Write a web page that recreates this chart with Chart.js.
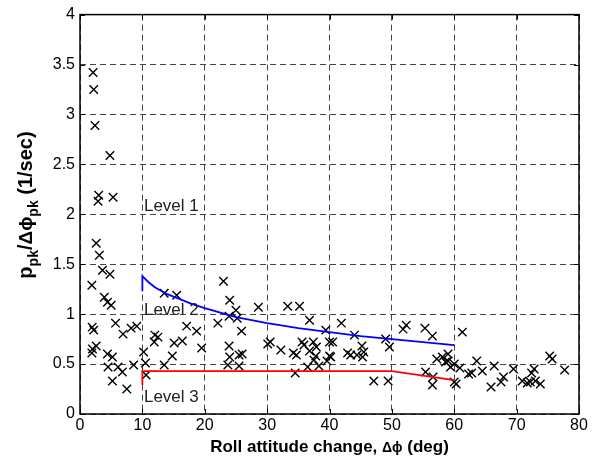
<!DOCTYPE html>
<html>
<head>
<meta charset="utf-8">
<script src="https://cdn.jsdelivr.net/npm/chart.js@4.4.1/dist/chart.umd.min.js"></script>
<style>
  html, body { margin: 0; padding: 0; background: #fff; }
  #wrap { position: relative; width: 607px; height: 464px; }
</style>
</head>
<body>
<div id="wrap"><canvas id="rollChart"></canvas></div>
<script>
/* ─── DATA ─── */
// roll attitude change (deg) / p_pk / dphi_pk (1/sec) for each test point
const rollX = [
  2.1, 2.2, 2.4, 4.8, 3.0, 2.9, 5.3, 2.6, 3.1, 3.6, 4.8, 1.9, 3.9, 4.4, 5.0,
  1.95, 2.2, 5.7, 6.9, 8.2, 9.1, 2.0, 2.6, 1.9, 4.4, 5.2, 4.5, 6.1, 6.8, 8.6,
  5.2, 7.5, 10.2, 10.5, 10.6,
  12.0, 12.5, 11.9, 13.5, 15.5, 15.1, 16.4, 17.1, 18.7, 19.5, 14.8, 13.5,
  23.0, 24.0, 25.0, 22.1, 23.9, 25.2, 25.9, 28.6, 23.9, 24.0, 25.5, 26.0, 23.7, 25.5,
  30.1, 30.5, 32.2, 33.3, 35.2, 36.8, 34.2, 34.7, 35.6, 35.9, 37.4, 37.9, 36.8,
  37.8, 37.5, 34.5, 36.5, 38.3, 39.4, 39.6, 40.2,
  40.0, 40.5, 40.0, 41.9, 44.0, 42.9, 43.4, 44.4, 45.2, 45.5, 45.3, 47.1, 49.4, 49.0, 49.6,
  51.8, 52.3, 55.3, 56.5, 55.4, 56.6, 56.5, 57.2, 58.1, 59.0, 59.0, 58.6, 59.4, 60.0,
  60.9, 60.0, 60.3,
  61.3, 62.3, 62.8, 63.6, 64.5, 65.9, 66.4, 67.5, 67.9, 69.5, 70.9, 71.7, 72.4,
  72.8, 72.2, 73.0, 73.8, 75.3, 75.7, 77.7
];
const rateY = [
  3.42, 3.25, 2.89, 2.59, 2.19, 2.13, 2.17, 1.71, 1.59, 1.44, 1.40, 1.29, 1.17, 1.12, 1.09,
  0.87, 0.84, 0.91, 0.80, 0.86, 0.88, 0.65, 0.68, 0.61, 0.60, 0.57, 0.47, 0.47, 0.42, 0.49,
  0.33, 0.25, 0.62, 0.51, 0.39,
  0.79, 0.77, 0.72, 1.21, 1.19, 0.71, 0.73, 0.88, 0.83, 0.66, 0.58, 0.49,
  1.33, 1.14, 1.04, 0.91, 0.98, 0.96, 0.83, 1.07, 0.68, 0.57, 0.59, 0.60, 0.49, 0.48,
  0.70, 0.72, 0.64, 1.08, 1.08, 0.94, 0.61, 0.59, 0.72, 0.69, 0.72, 0.67, 0.63,
  0.58, 0.54, 0.41, 0.47, 0.48, 0.84, 0.53, 0.57,
  0.72, 0.72, 0.58, 0.91, 0.79, 0.61, 0.59, 0.59, 0.68, 0.62, 0.57, 0.33, 0.33, 0.75, 0.67,
  0.85, 0.89, 0.86, 0.78, 0.42, 0.37, 0.29, 0.55, 0.57, 0.60, 0.53, 0.52, 0.47, 0.50,
  0.46, 0.32, 0.30,
  0.82, 0.40, 0.41, 0.53, 0.43, 0.27, 0.48, 0.32, 0.37, 0.45, 0.33, 0.31, 0.41,
  0.45, 0.32, 0.33, 0.30, 0.58, 0.55, 0.44
];

// Level 1 / Level 2 boundary (blue)
const bound12X = [10, 10, 11, 12, 14, 16, 18, 20, 25, 30, 35, 40, 45, 50, 55, 60];
const bound12Y = [1.23, 1.38, 1.32, 1.27, 1.20, 1.15, 1.10, 1.06, 0.97, 0.91, 0.86, 0.82, 0.78, 0.75, 0.72, 0.69];
// Level 2 / Level 3 boundary (red)
const bound23X = [10, 10, 50, 60];
const bound23Y = [0.29, 0.43, 0.43, 0.34];

const levelNames = ['Level 1', 'Level 2', 'Level 3'];
const levelTextX = [10.25, 10.25, 10.25];
const levelTextY = [2.03, 0.99, 0.12];

const xTicks = [0, 10, 20, 30, 40, 50, 60, 70, 80];
const yTicks = [0, 0.5, 1, 1.5, 2, 2.5, 3, 3.5, 4];

/* ─── STYLE ─── */
const FONT = "Arial, 'Liberation Sans', sans-serif";
const TITLE_MAIN = `bold 17px ${FONT}`;
const TITLE_SYM  = `bold 14px ${FONT}`;
const YT_MAIN = `bold 20px ${FONT}`;
const YT_SUB  = `bold 14px ${FONT}`;
const YT_SYM  = `bold 19px ${FONT}`;

const toPoints = (xs, ys) => xs.map((x, i) => ({ x, y: ys[i] }));

// draws a run of text pieces [text, font, baselineShift] centred on (cx, cy)
function drawRich(ctx, pieces, cx, cy, angle) {
  ctx.save();
  ctx.translate(cx, cy);
  ctx.rotate(angle);
  ctx.textBaseline = 'alphabetic';
  ctx.textAlign = 'left';
  let total = 0;
  pieces.forEach(([t, f]) => { ctx.font = f; total += ctx.measureText(t).width; });
  let x = -total / 2;
  pieces.forEach(([t, f, dy]) => {
    ctx.font = f;
    ctx.fillText(t, x, dy || 0);
    x += ctx.measureText(t).width;
  });
  ctx.restore();
}

/* frame, inner ticks, titles and level labels (MATLAB look) */
const matlabFrame = {
  id: 'matlabFrame',
  afterDraw(chart) {
    const { ctx, chartArea: a, scales: { x, y } } = chart;
    ctx.save();
    ctx.strokeStyle = '#000';
    ctx.lineWidth = 1.5;
    ctx.strokeRect(a.left, a.top, a.right - a.left, a.bottom - a.top);

    ctx.lineWidth = 1;
    ctx.beginPath();
    xTicks.forEach(v => {
      const px = Math.round(x.getPixelForValue(v)) + 0.5;
      ctx.moveTo(px, a.bottom); ctx.lineTo(px, a.bottom - 5);
      ctx.moveTo(px, a.top);    ctx.lineTo(px, a.top + 5);
    });
    yTicks.forEach(v => {
      const py = Math.round(y.getPixelForValue(v)) + 0.5;
      ctx.moveTo(a.left, py);  ctx.lineTo(a.left + 5, py);
      ctx.moveTo(a.right, py); ctx.lineTo(a.right - 5, py);
    });
    ctx.stroke();

    // level annotations
    ctx.fillStyle = '#222';
    ctx.font = `17px ${FONT}`;
    ctx.textAlign = 'left';
    ctx.textBaseline = 'alphabetic';
    levelNames.forEach((name, i) => {
      ctx.fillText(name, x.getPixelForValue(levelTextX[i]), y.getPixelForValue(levelTextY[i]));
    });

    // axis titles
    ctx.fillStyle = '#000';
    drawRich(ctx, [
      ['Roll attitude change, ', TITLE_MAIN],
      ['Δϕ', TITLE_SYM],
      [' (deg)', TITLE_MAIN]
    ], (a.left + a.right) / 2, 452, 0);

    drawRich(ctx, [
      ['p', YT_MAIN],
      ['pk', YT_SUB, 6],
      ['/', YT_MAIN],
      ['Δϕ', YT_SYM],
      ['pk', YT_SUB, 6],
      [' (1/sec)', YT_MAIN]
    ], 32, 205, -Math.PI / 2);
    ctx.restore();
  }
};

const axisCommon = {
  type: 'linear',
  grid: { color: '#444', lineWidth: 1, drawTicks: false },
  border: { display: false, dash: [6, 4] },
  ticks: {
    color: '#000',
    font: { family: FONT, size: 16 },
    callback: v => String(v)
  }
};

new Chart(document.getElementById('rollChart'), {
  type: 'scatter',
  data: {
    datasets: [
      {
        label: 'Level 1/2 boundary',
        data: toPoints(bound12X, bound12Y),
        showLine: true,
        borderColor: '#0000ff',
        borderWidth: 1.8,
        pointRadius: 0,
        tension: 0
      },
      {
        label: 'Level 2/3 boundary',
        data: toPoints(bound23X, bound23Y),
        showLine: true,
        borderColor: '#ff0000',
        borderWidth: 1.8,
        pointRadius: 0,
        tension: 0
      },
      {
        label: 'Flight test points',
        data: toPoints(rollX, rateY),
        pointStyle: 'crossRot',
        pointRadius: 6,
        borderColor: '#000',
        backgroundColor: '#000',
        pointBorderWidth: 1.4
      }
    ]
  },
  options: {
    responsive: true,
    maintainAspectRatio: false,
    animation: false,
    devicePixelRatio: 1,
    layout: { padding: { top: 14, right: 28, left: 0, bottom: 0 } },
    plugins: { legend: { display: false }, tooltip: { enabled: false } },
    scales: {
      x: {
        ...axisCommon,
        min: 0, max: 80,
        afterBuildTicks: s => { s.ticks = xTicks.map(v => ({ value: v })); },
        afterFit: s => { s.height = 50; },
        ticks: { ...axisCommon.ticks, padding: 2, maxRotation: 0 }
      },
      y: {
        ...axisCommon,
        min: 0, max: 4,
        afterBuildTicks: s => { s.ticks = yTicks.map(v => ({ value: v })); },
        afterFit: s => { s.width = 80; },
        ticks: { ...axisCommon.ticks, padding: 5 }
      }
    }
  },
  plugins: [matlabFrame]
});
</script>
</body>
</html>
